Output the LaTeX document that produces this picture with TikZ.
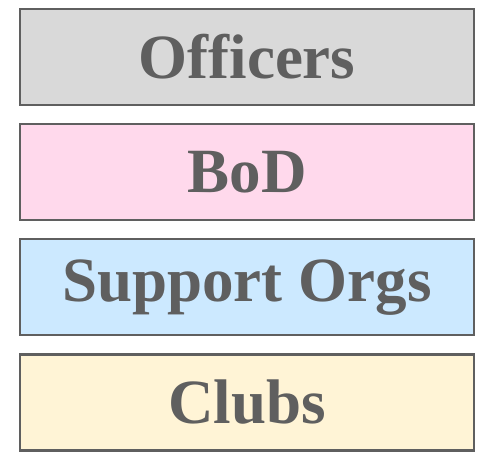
\documentclass[tikz,border=0pt]{standalone}
\usepackage{fontspec}
\setmainfont{Liberation Serif}
\usetikzlibrary{positioning}

\definecolor{txtgray}{HTML}{5F5F5F}
\definecolor{offgray}{HTML}{D9D9D9}
\definecolor{bodpink}{HTML}{FFD9EC}
\definecolor{supblue}{HTML}{CCE9FF}
\definecolor{clubyel}{HTML}{FFF4D6}

\tikzset{
  layer/.style={draw=txtgray, line width=2.6pt, rectangle,
    minimum width=454pt, minimum height=96pt, inner sep=0pt,
    text=txtgray, font=\fontsize{63}{70}\selectfont\bfseries}
}

\begin{document}
\begin{tikzpicture}[node distance=16.5pt]
    \useasboundingbox (0,0) rectangle (488pt,-457pt);
    \node[layer, fill=offgray] (officers) at (247pt,-57pt) {Officers};
    \node[layer, fill=bodpink, below=of officers] (bod) {BoD};
    \node[layer, fill=supblue, below=of bod] (support) {Support Orgs};
    \node[layer, fill=clubyel, below=of support] (clubs) {Clubs};
  \end{tikzpicture}
\end{document}
